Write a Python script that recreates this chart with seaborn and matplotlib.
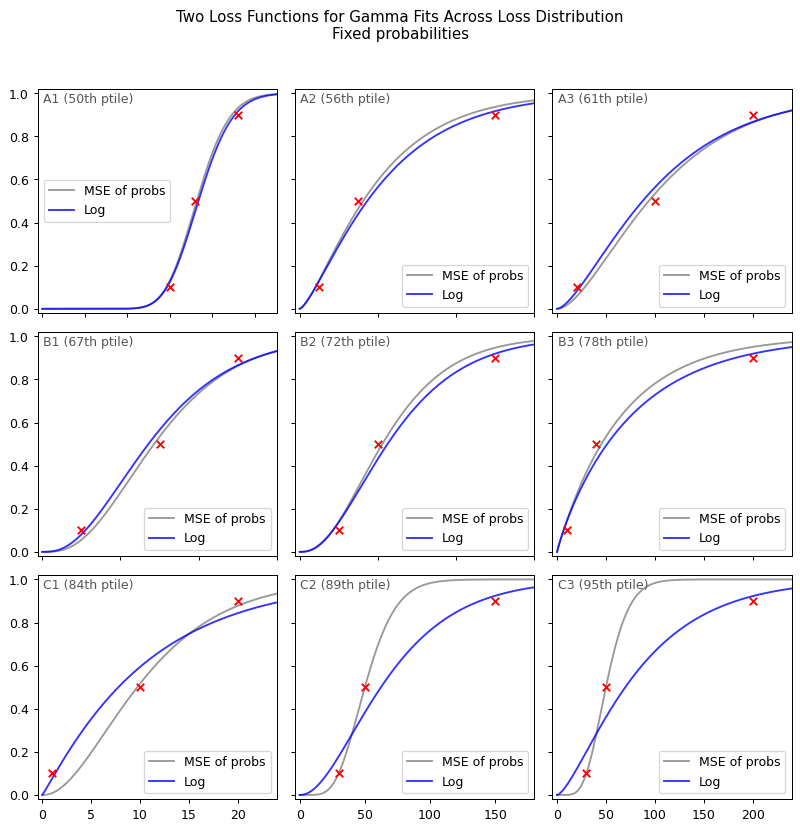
import math
import numpy as np
import pandas as pd
import matplotlib
matplotlib.use("Agg")
import matplotlib.pyplot as plt
from matplotlib.ticker import MaxNLocator
import seaborn as sns

# ---- data ----
panel_ids = ["A1", "A2", "A3", "B1", "B2", "B3", "C1", "C2", "C3"]
percentiles = [50, 56, 61, 67, 72, 78, 84, 89, 95]
probs = [0.1, 0.5, 0.9]
x_A1 = [15, 18, 23]
x_A2 = [5, 15, 50]
x_A3 = [20, 100, 200]
x_B1 = [5, 15, 25]
x_B2 = [10, 20, 50]
x_B3 = [10, 40, 200]
x_C1 = [1, 10, 20]
x_C2 = [30, 50, 150]
x_C3 = [30, 50, 200]
x_points = [x_A1, x_A2, x_A3, x_B1, x_B2, x_B3, x_C1, x_C2, x_C3]

# fitted gamma parameters (shape, scale) for each panel
mse_shape = [36.9, 1.50, 1.88, 3.42, 2.88, 0.978, 2.29, 7.60, 7.67]
mse_scale = [0.497, 13.7, 60.1, 4.62, 8.27, 67.3, 4.94, 6.88, 6.81]
log_shape = [35.0, 1.43, 1.62, 2.92, 2.59, 0.900, 1.08, 2.23, 1.52]
log_scale = [0.530, 15.5, 67.2, 5.23, 9.91, 85.7, 10.1, 32.7, 58.0]
legend_locs = ["center left"] + ["lower right"] * 8


def gamma_cdf(x, shape, scale):
    """Regularized lower incomplete gamma P(shape, x/scale)."""
    z = np.maximum(np.asarray(x, float) / scale, 1e-300)
    a = np.full(z.shape, float(shape))
    lg = math.lgamma(shape)
    with np.errstate(all="ignore"):
        ap = a.copy()
        s = 1.0 / a
        d = s.copy()
        for _ in range(400):
            ap = ap + 1
            d = d * z / ap
            s = s + d
        ser = s * np.exp(-z + a * np.log(z) - lg)
        b = z + 1 - a
        c = np.full(z.shape, 1e300)
        dd = 1 / b
        h = dd.copy()
        for i in range(1, 300):
            an = -i * (i - a)
            b = b + 2
            dd = an * dd + b
            dd = np.where(np.abs(dd) < 1e-300, 1e-300, dd)
            c = b + an / c
            c = np.where(np.abs(c) < 1e-300, 1e-300, c)
            dd = 1 / dd
            h = h * dd * c
        cf = 1 - np.exp(-z + a * np.log(z) - lg) * h
        out = np.where(z < a + 1, ser, cf)
    out = np.nan_to_num(out, nan=1.0)
    return np.clip(out, 0, 1)


DPI = 90
fig, axes = plt.subplots(3, 3, figsize=(800.5 / DPI, 830.5 / DPI), dpi=DPI, sharey=True)
fig.subplots_adjust(left=0.0469, right=0.989, top=0.8928, bottom=0.037,
                    wspace=0.0757, hspace=0.0824)

for idx, ax in enumerate(axes.ravel()):
    pid = panel_ids[idx]
    xs = x_points[idx]
    xmax = 1.2 * max(xs)
    xg = np.linspace(0, xmax, 400)

    df = pd.DataFrame({
        "x": np.concatenate([xg, xg]),
        "cdf": np.concatenate([gamma_cdf(xg, mse_shape[idx], mse_scale[idx]),
                               gamma_cdf(xg, log_shape[idx], log_scale[idx])]),
        "fit": ["MSE of probs"] * len(xg) + ["Log"] * len(xg),
    })
    for name, col in [("MSE of probs", "gray"), ("Log", "blue")]:
        sub = df[df["fit"] == name]
        sns.lineplot(data=sub, x="x", y="cdf", color=col, alpha=0.8, ax=ax,
                     label=name, linewidth=1.5)
    sns.scatterplot(x=xs, y=probs, marker="x", color="red", s=36,
                    linewidth=1.5, ax=ax, zorder=3)

    ax.set_xlim(-0.02 * xmax, xmax)
    ax.set_ylim(-0.02, 1.022)
    ax.xaxis.set_major_locator(MaxNLocator(nbins=6, steps=[1, 2, 2.5, 5, 10]))
    ax.set_xlabel("")
    ax.set_ylabel("")
    ax.text(0.022, 0.982, f"{pid} ({percentiles[idx]}th ptile)", transform=ax.transAxes,
            va="top", ha="left", color="#555555", fontsize=10)
    ax.legend(loc=legend_locs[idx], fontsize=10)
    if not pid.startswith("C"):
        ax.tick_params(labelbottom=False)

fig.suptitle("Two Loss Functions for Gamma Fits Across Loss Distribution\nFixed probabilities",
             fontsize=12, y=0.988)
fig.savefig("out.png", dpi=DPI)
